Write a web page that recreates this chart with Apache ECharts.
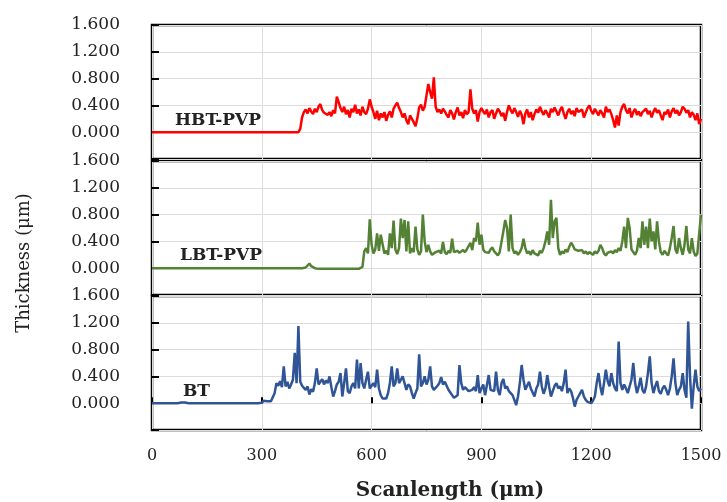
<!DOCTYPE html>
<html><head><meta charset="utf-8">
<script src="https://cdn.jsdelivr.net/npm/echarts@6/dist/echarts.min.js"></script>
<style>html,body{margin:0;padding:0;background:#fff}#c{width:727px;height:502px}</style>
</head><body><div id="c"></div>
<script>
// Scanlength sample spacing (µm): value i is at scanlength i * scanStep
const scanStep = 5;
const xTicks = [0, 300, 600, 900, 1200, 1500];
const yTicks = [-0.4, 0.0, 0.4, 0.8, 1.2, 1.6];
const seriesNames = ['HBT-PVP', 'LBT-PVP', 'BT'];
const seriesColors = ['#ff0000', '#548235', '#2f5597'];

// Thickness (µm), one value every 5 µm from 0 to 1500
const hbtPvp = [
  0,0,0,0,0,0,0,0,0,0,0,0,0,0,0,0,0,0,0,0,
  0,0,0,0,0,0,0,0,0,0,0,0,0,0,0,0,0,0,0,0,
  0,0,0,0,0,0,0,0,0,0,0,0,0,0,0,0,0,0,0,0,
  0,0,0,0,0,0,0,0,0,0,0,0,0,0,0,0,0,0,0,0,
  0,0.05,0.22,0.30,0.34,0.28,0.36,0.31,0.27,0.35,0.30,0.38,0.42,0.33,0.29,0.31,0.26,0.30,0.24,0.33,
  0.28,0.53,0.45,0.36,0.30,0.38,0.27,0.33,0.22,0.35,0.30,0.41,0.28,0.34,0.25,0.38,0.30,0.27,0.35,0.49,
  0.38,0.30,0.20,0.32,0.18,0.28,0.22,0.30,0.17,0.26,0.31,0.22,0.35,0.40,0.44,0.36,0.30,0.22,0.28,0.18,
  0.12,0.25,0.20,0.15,0.09,0.21,0.37,0.41,0.32,0.38,0.55,0.72,0.60,0.50,0.82,0.38,0.30,0.34,0.28,0.35,
  0.31,0.26,0.22,0.33,0.28,0.19,0.30,0.37,0.25,0.30,0.21,0.33,0.27,0.30,0.64,0.35,0.28,0.33,0.16,0.30,
  0.36,0.31,0.27,0.34,0.22,0.30,0.33,0.20,0.28,0.35,0.31,0.24,0.29,0.17,0.30,0.40,0.33,0.28,0.36,0.30,
  0.23,0.32,0.26,0.12,0.28,0.34,0.22,0.30,0.18,0.27,0.34,0.29,0.38,0.31,0.26,0.33,0.28,0.22,0.35,0.30,
  0.37,0.31,0.25,0.33,0.38,0.28,0.20,0.30,0.35,0.27,0.32,0.24,0.36,0.30,0.28,0.34,0.22,0.29,0.36,0.40,
  0.32,0.27,0.35,0.30,0.25,0.33,0.28,0.22,0.38,0.30,0.34,0.27,0.18,0.07,0.25,0.10,0.30,0.38,0.42,0.33,
  0.28,0.36,0.22,0.30,0.35,0.26,0.31,0.24,0.30,0.28,0.35,0.27,0.32,0.22,0.30,0.36,0.29,0.33,0.25,0.18,
  0.30,0.27,0.34,0.22,0.31,0.36,0.28,0.33,0.25,0.30,0.38,0.35,0.29,0.33,0.22,0.30,0.26,0.18,0.28,0.12,
  0.20
];
const lbtPvp = [
  0,0,0,0,0,0,0,0,0,0,0,0,0,0,0,0,0,0,0,0,
  0,0,0,0,0,0,0,0,0,0,0,0,0,0,0,0,0,0,0,0,
  0,0,0,0,0,0,0,0,0,0,0,0,0,0,0,0,0,0,0,0,
  0,0,0,0,0,0,0,0,0,0,0,0,0,0,0,0,0,0,0,0,
  0,0,0,0,0.01,0.03,0.07,0.03,0.01,0,-0.01,-0.01,-0.01,-0.01,-0.01,-0.01,-0.01,-0.01,-0.01,-0.01,
  -0.01,-0.01,-0.01,-0.01,-0.01,-0.01,-0.01,-0.01,-0.01,-0.01,-0.01,-0.01,-0.01,-0.01,-0.01,0.02,0.25,0.30,0.22,0.73,
  0.35,0.22,0.28,0.52,0.26,0.50,0.48,0.22,0.26,0.20,0.52,0.30,0.71,0.28,0.21,0.30,0.74,0.45,0.72,0.25,
  0.70,0.22,0.30,0.24,0.62,0.28,0.20,0.25,0.80,0.40,0.24,0.35,0.25,0.20,0.18,0.24,0.22,0.26,0.22,0.39,
  0.24,0.21,0.26,0.23,0.44,0.24,0.22,0.26,0.23,0.25,0.27,0.24,0.28,0.30,0.38,0.27,0.45,0.40,0.68,0.35,
  0.50,0.28,0.24,0.26,0.23,0.28,0.31,0.25,0.22,0.19,0.24,0.22,0.55,0.72,0.60,0.25,0.80,0.30,0.22,0.25,
  0.20,0.24,0.30,0.44,0.30,0.22,0.25,0.20,0.27,0.22,0.24,0.19,0.26,0.23,0.30,0.40,0.55,0.35,1.02,0.45,
  0.70,0.75,0.30,0.20,0.25,0.22,0.28,0.24,0.32,0.38,0.34,0.28,0.30,0.26,0.24,0.27,0.22,0.25,0.21,0.24,
  0.22,0.20,0.25,0.22,0.26,0.35,0.30,0.22,0.19,0.23,0.21,0.25,0.22,0.27,0.24,0.30,0.26,0.40,0.62,0.30,
  0.75,0.60,0.28,0.24,0.20,0.26,0.45,0.30,0.70,0.35,0.62,0.30,0.74,0.40,0.55,0.28,0.70,0.40,0.24,0.20,
  0.26,0.22,0.19,0.30,0.45,0.63,0.28,0.22,0.45,0.30,0.20,0.35,0.63,0.28,0.22,0.45,0.25,0.18,0.22,0.22,
  0.80
];
const bt = [
  0,0,0,0,0,0,0,0,0,0,0,0,0,0,0,0,0.01,0.025,0.01,0,
  0,0,0,0,0,0,0,0,0,0,0,0,0,0,0,0,0,0,0,0,
  0,0,0,0,0,0,0,0,0,0,0,0,0,0,0,0,0,0,0,0,
  0.005,0.035,0.035,0.03,0.035,0.03,0.025,0.15,0.30,0.26,0.33,0.24,0.55,0.25,0.32,0.22,0.28,0.35,0.75,0.30,
  1.15,0.32,0.26,0.23,0.20,0.25,0.13,0.21,0.17,0.30,0.52,0.28,0.32,0.36,0.28,0.34,0.30,0.40,0.24,0.10,
  0.18,0.28,0.32,0.45,0.10,0.30,0.52,0.18,0.15,0.25,0.30,0.22,0.65,0.22,0.60,0.30,0.22,0.35,0.47,0.22,
  0.26,0.30,0.24,0.50,0.22,0.12,0.07,0.08,0.07,0.15,0.30,0.55,0.25,0.30,0.52,0.30,0.28,0.40,0.30,0.20,
  0.28,0.25,0.15,0.07,0.15,0.22,0.73,0.25,0.30,0.40,0.28,0.35,0.55,0.25,0.20,0.22,0.26,0.30,0.39,0.28,
  0.32,0.34,0.20,0.16,0.12,0.08,0.07,0.12,0.57,0.30,0.20,0.24,0.22,0.18,0.16,0.20,0.24,0.18,0.42,0.15,
  0.22,0.28,0.12,0.10,0.42,0.20,0.22,0.18,0.47,0.20,0.12,0.30,0.36,0.22,0.25,0.18,0.15,0.12,0.05,-0.03,
  0.10,0.30,0.57,0.35,0.20,0.26,0.32,0.22,0.20,0.10,0.22,0.28,0.47,0.25,0.14,0.22,0.42,0.25,0.10,0.18,
  0.26,0.30,0.22,0.25,0.18,0.30,0.50,0.15,0.22,0.18,0.08,-0.05,0.05,0.10,0.15,0.20,0.10,0.05,0.02,0.00,
  0.00,0.04,0.10,0.30,0.45,0.25,0.12,0.30,0.50,0.33,0.25,0.45,0.30,0.22,0.18,0.92,0.30,0.20,0.28,0.22,
  0.15,0.25,0.35,0.60,0.30,0.15,0.25,0.38,0.20,0.15,0.25,0.45,0.70,0.30,0.15,0.25,0.33,0.18,0.14,0.22,
  0.26,0.20,0.12,0.22,0.40,0.67,0.30,0.12,0.20,0.25,0.45,0.20,0.08,1.22,0.40,-0.08,0.25,0.50,0.25,0.18,
  0.22
];
const seriesValues = [hbtPvp, lbtPvp, bt];

const FONT = "'DejaVu Serif', serif";
const gridTops = [25, 161, 296];
const gridH = 134;

const chart = echarts.init(document.getElementById('c'), null, {renderer: 'canvas'});
const grids = [], xAxes = [], yAxes = [], series = [];
seriesNames.forEach((name, k) => {
  grids.push({left: 152, right: 26, top: gridTops[k], height: gridH,
    show: true, borderColor: '#000', borderWidth: 2.5, backgroundColor: 'transparent'});
  const last = k === seriesNames.length - 1;
  xAxes.push({type: 'value', gridIndex: k, min: xTicks[0], max: xTicks[xTicks.length - 1],
    interval: xTicks[1] - xTicks[0],
    axisLine: {show: false},
    axisTick: {show: last, inside: true, length: 6, lineStyle: {color: '#000', width: 2}},
    axisLabel: {show: last, margin: 18, fontFamily: FONT, fontSize: 16, color: '#222',
      formatter: v => String(v)},
    splitLine: {show: true, lineStyle: {color: '#dcdcdc', width: 1}}});
  yAxes.push({type: 'value', gridIndex: k, min: yTicks[0], max: yTicks[yTicks.length - 1],
    interval: yTicks[1] - yTicks[0],
    axisLine: {show: false},
    axisTick: {show: true, inside: true, length: 7, lineStyle: {color: '#000', width: 2}},
    axisLabel: {margin: 32, fontFamily: FONT, fontSize: 17, color: '#222',
      formatter: v => (v < -1e-9 ? '' : Math.abs(v).toFixed(3))},
    splitLine: {show: true, lineStyle: {color: '#dcdcdc', width: 1}}});
  series.push({type: 'line', name, xAxisIndex: k, yAxisIndex: k, showSymbol: false,
    symbol: 'none', lineStyle: {color: seriesColors[k], width: 2.5}, z: 3,
    data: seriesValues[k].map((v, i) => [i * scanStep, v])});
});

const labelPos = [[175, 121], [180, 256], [183, 392]];
const graphic = seriesNames.map((name, k) => ({
  type: 'text', x: labelPos[k][0], y: labelPos[k][1], z: 10,
  style: {text: name, fill: '#222', font: "bold 17px 'DejaVu Serif', serif",
    align: 'left', verticalAlign: 'middle'}
}));
graphic.push({type: 'text', x: 450, y: 491, z: 10,
  style: {text: 'Scanlength (μm)', fill: '#222', font: "bold 20px 'DejaVu Serif', serif",
    align: 'center', verticalAlign: 'middle'}});
graphic.push({type: 'text', x: 24, y: 263, rotation: Math.PI / 2, z: 10,
  style: {text: 'Thickness (μm)', fill: '#222', font: "18px 'DejaVu Serif', serif",
    align: 'center', verticalAlign: 'middle'}});

chart.setOption({animation: false, backgroundColor: '#fff', grid: grids, xAxis: xAxes,
  yAxis: yAxes, series, graphic});
</script></body></html>
